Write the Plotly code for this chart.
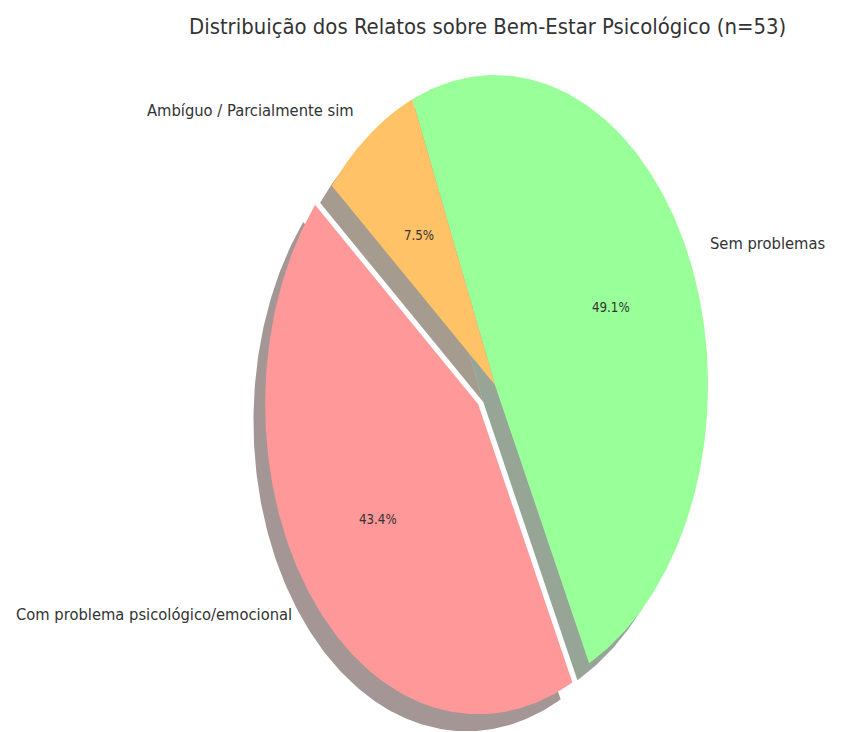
import numpy as np
import plotly.graph_objects as go

# ---- data ----
labels = ["Com problema psicológico/emocional", "Sem problemas", "Ambíguo / Parcialmente sim"]
counts = [23, 26, 4]
colors = ["#ff9999", "#99ff99", "#ffc266"]
explode = [0.1, 0.0, 0.0]
title_text = "Distribuição dos Relatos sobre Bem-Estar Psicológico (n=53)"

start_angle = 140.0
shadow_offset = 0.055
label_distance = 1.1
pct_distance = 0.6

FONT = "DejaVu Sans Condensed, DejaVu Sans, sans-serif"
TXT = "#333333"

W, H = 834, 724  # page body has an 8px margin


def hex_rgb(h):
    h = h.lstrip("#")
    return [int(h[i:i + 2], 16) for i in (0, 2, 4)]


total = float(sum(counts))
fracs = [c / total for c in counts]

fig = go.Figure()
wedges = []
theta = start_angle
for lab, frac, col, ex in zip(labels, fracs, colors, explode):
    t1 = theta
    t2 = theta + 360.0 * frac
    mid = np.deg2rad((t1 + t2) / 2)
    cx, cy = ex * np.cos(mid), ex * np.sin(mid)
    ang = np.deg2rad(np.linspace(t1, t2, 200))
    xs = np.concatenate([[cx], cx + np.cos(ang), [cx]])
    ys = np.concatenate([[cy], cy + np.sin(ang), [cy]])
    wedges.append((lab, frac, col, mid, cx, cy, xs, ys))
    theta = t2

# shadows
for lab, frac, col, mid, cx, cy, xs, ys in wedges:
    r, g, b = hex_rgb(col)
    fig.add_trace(go.Scatter(
        x=xs - shadow_offset, y=ys - shadow_offset, mode="lines", fill="toself",
        fillcolor=f"rgba({0.3*r:.0f},{0.3*g:.0f},{0.3*b:.0f},0.5)",
        line=dict(width=0), hoverinfo="skip", showlegend=False))

# wedges
for lab, frac, col, mid, cx, cy, xs, ys in wedges:
    fig.add_trace(go.Scatter(
        x=xs, y=ys, mode="lines", fill="toself", fillcolor=col,
        line=dict(width=0), hoverinfo="skip", showlegend=False))

annotations = []
for lab, frac, col, mid, cx, cy, xs, ys in wedges:
    lx = cx + label_distance * np.cos(mid)
    ly = cy + label_distance * np.sin(mid)
    annotations.append(dict(
        x=lx, y=ly, xref="x", yref="y", text=lab, showarrow=False,
        xanchor="left" if lx > 0 else "right", yanchor="middle",
        font=dict(family=FONT, size=16.4, color=TXT)))
    px = cx + pct_distance * np.cos(mid)
    py = cy + pct_distance * np.sin(mid)
    annotations.append(dict(
        x=px, y=py, xref="x", yref="y", text=f"{frac*100:.1f}%", showarrow=False,
        xanchor="center", yanchor="middle",
        font=dict(family=FONT, size=13.2, color=TXT)))

annotations.append(dict(
    x=(487 - 8) / W, y=1 - (27 - 8) / H, xref="paper", yref="paper", text=title_text,
    showarrow=False, xanchor="center", yanchor="middle",
    font=dict(family=FONT, size=21.9, color=TXT)))

fig.update_layout(
    width=W, height=H,
    margin=dict(l=0, r=0, t=0, b=0),
    paper_bgcolor="white", plot_bgcolor="white",
    xaxis=dict(range=[-2.286, 1.629], visible=False, fixedrange=True),
    yaxis=dict(range=[-1.119, 1.216], visible=False, fixedrange=True),
    annotations=annotations,
    hovermode=False,
    showlegend=False,
)

fig.write_html("out.html")
